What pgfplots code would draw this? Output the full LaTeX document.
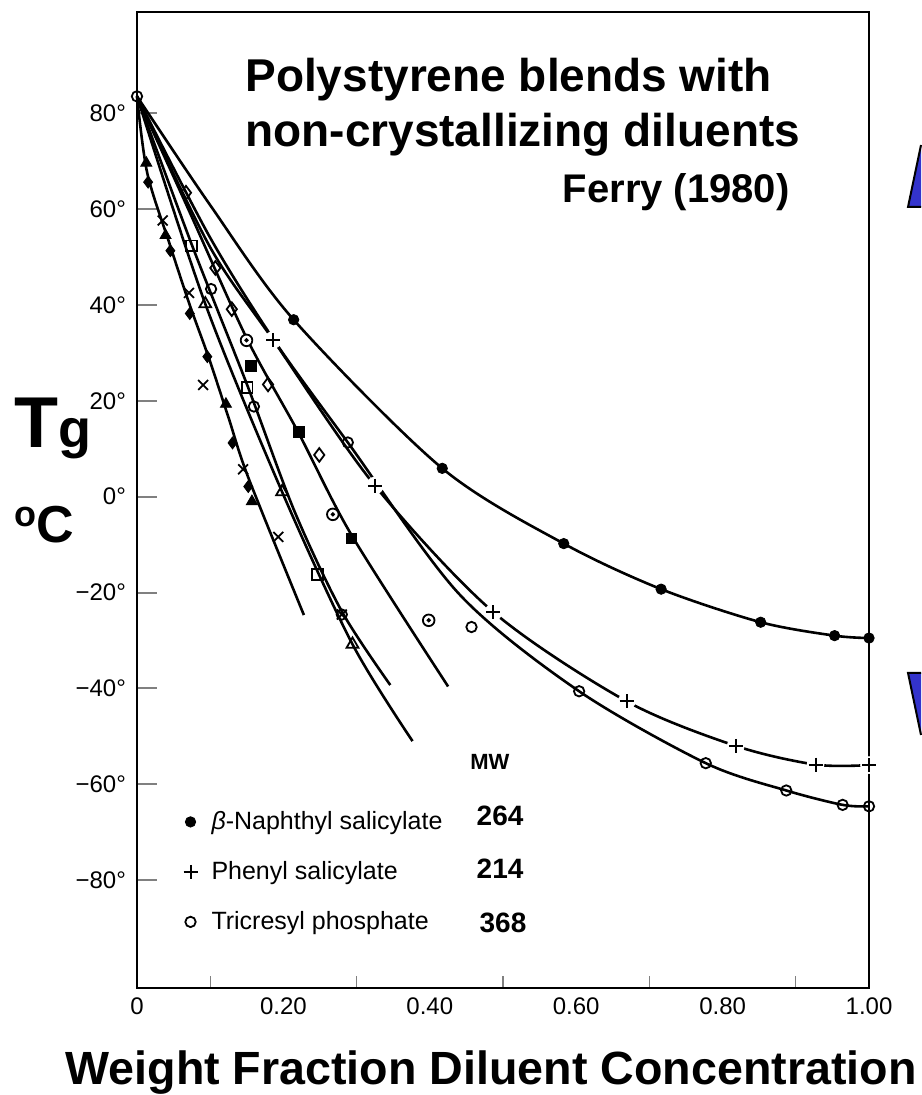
\documentclass[border=0pt]{standalone}
\usepackage{fontspec}
\setmainfont{Liberation Sans}
\usepackage{pgfplots}
\pgfplotsset{compat=1.18}
\definecolor{triblue}{HTML}{3333CC}
\begin{document}
\begin{tikzpicture}
\begin{axis}[
  at={(0pt,0pt)}, anchor=south west,
  width=366pt, height=488pt, scale only axis,
  xmin=0, xmax=1, ymin=-102.5, ymax=101.1,
  clip=false,
  axis line style={line width=1pt},
  xtick={0,0.2,0.4,0.6,0.8,1.0},
  xticklabels={0,0.20,0.40,0.60,0.80,1.00},
  minor xtick={0.1,0.3,0.5,0.7,0.9},
  ytick={-80,-60,-40,-20,0,20,40,60,80},
  yticklabels={−80°,−60°,−40°,−20°,0°,20°,40°,60°,80°},
  tick align=inside, xtick pos=bottom, ytick pos=left,
  major tick length=10pt, minor tick length=6pt,
  major x tick style={draw=none},
  minor x tick style={line width=0.6pt},
  y tick style={line width=1pt},
  ticklabel style={font=\fontsize{12}{14}\selectfont},
  yticklabel style={xshift=-2pt},
  xticklabel style={yshift=-1.5pt},
  legend style={at={(axis cs:0.063,-65.6)}, anchor=north west, draw=none, fill=none,
    inner sep=0pt, row sep=13pt, column sep=7pt,
    font=\fontsize{12.5}{14}\selectfont,
    nodes={inner sep=0pt, text height=9pt, text depth=3pt}},
  legend cell align=left,
  legend image code/.code={\draw[#1] plot coordinates {(0pt,0.08em)};},
]
% ---- curve lines ----
\addplot[smooth, line width=1.3pt, forget plot] coordinates {(0,83.5)(0.1,60.8)(0.214,36.9)(0.417,5.9)(0.583,-9.8)(0.716,-19.3)(0.852,-26.2)(0.953,-29.0)(1.0,-29.5)};
\addplot[smooth, line width=1.3pt, forget plot] coordinates {(0,83.5)(0.1,52)(0.186,32.7)(0.325,2.3)(0.487,-24.1)(0.669,-42.7)(0.818,-52.0)(0.927,-55.9)(1.0,-56.0)};
\addplot[smooth, line width=1.3pt, forget plot] coordinates {(0,83.5)(0.1,54)(0.19,32)(0.288,11.3)(0.44,-20.3)(0.604,-40.6)(0.777,-55.6)(0.887,-61.3)(0.964,-64.3)(1.0,-64.6)};
\addplot[smooth, line width=1.3pt, forget plot] coordinates {(0,83.5)(0.014,67.5)(0.045,52.5)(0.072,40)(0.098,29)(0.125,16.5)(0.152,4)(0.228,-24.7)};
\addplot[smooth, line width=1.3pt, forget plot] coordinates {(0,83.5)(0.0933,40.2)(0.1982,1.0)(0.2944,-30.8)(0.3764,-51)};
\addplot[smooth, line width=1.3pt, forget plot] coordinates {(0,83.5)(0.075,52.5)(0.15,23.5)(0.215,-3)(0.28,-24)(0.346,-39.3)};
\addplot[smooth, line width=1.3pt, forget plot] coordinates {(0,83.5)(0.07,60)(0.15,33)(0.22,13.5)(0.293,-8)(0.425,-39.6)};
% ---- white gaps in the phenyl salicylate line around its marks ----
\addplot[white, only marks, mark=*, mark size=4.2pt, forget plot] coordinates {(0.186,32.7)(0.325,2.3)(0.487,-24.1)(0.669,-42.7)(0.818,-52.0)(0.927,-55.9)(1.0,-56.0)};
% ---- other diluents ----
\addplot[only marks, mark=triangle*, mark size=3.2pt, forget plot] coordinates {(0.0127,69.6)(0.039,54.5)(0.1215,19.3)(0.157,-1.0)};
\addplot[only marks, mark=diamond*, mark size=3pt, forget plot] coordinates {(0.0152,65.6)(0.0456,51.3)(0.0721,38.2)(0.0961,29.2)(0.1305,11.2)(0.152,2.1)};
\addplot[only marks, mark=x, mark size=3.5pt, mark options={line width=0.9pt}, forget plot] coordinates {(0.0351,57.6)(0.071,42.5)(0.0903,23.3)(0.145,5.7)(0.193,-8.4)(0.2798,-24.6)};
\addplot[only marks, mark=triangle, mark size=3.4pt, mark options={fill=white, line width=0.9pt}, forget plot] coordinates {(0.0933,40.2)(0.1982,1.0)(0.2944,-30.8)};
\addplot[only marks, mark=square, mark size=2.7pt, mark options={fill=white, line width=0.9pt}, forget plot] coordinates {(0.0745,52.3)(0.1504,22.8)(0.2462,-16.2)};
\addplot[only marks, mark=o, mark size=2.6pt, mark options={fill=white, line width=0.9pt}, forget plot] coordinates {(0.1012,43.3)(0.1597,18.8)(0.2798,-24.6)};
\addplot[only marks, mark=diamond, mark size=3.4pt, mark options={fill=white, line width=0.9pt}, forget plot] coordinates {(0.0669,63.4)(0.107,47.7)(0.1295,39.1)(0.179,23.4)(0.249,8.7)};
\addplot[only marks, mark=square*, mark size=2.7pt, forget plot] coordinates {(0.156,27.2)(0.2208,13.5)(0.293,-8.7)};
\addplot[only marks, mark=*, mark size=2.9pt, mark options={fill=white, line width=0.9pt}, forget plot] coordinates {(0.1496,32.6)(0.2675,-3.7)(0.3985,-25.8)};
\addplot[only marks, mark=*, mark size=0.9pt, forget plot] coordinates {(0.1496,32.6)(0.2675,-3.7)(0.3985,-25.8)};
% ---- labelled series ----
\addplot[only marks, mark=*, mark size=2.6pt] coordinates {(0.214,36.9)(0.417,5.9)(0.583,-9.8)(0.716,-19.3)(0.852,-26.2)(0.953,-29.0)(1.0,-29.5)};
\addlegendentry{\textit{β}-Naphthyl salicylate}
\addplot[only marks, mark=+, mark size=3.5pt, mark options={line width=1pt}] coordinates {(0.186,32.7)(0.325,2.3)(0.487,-24.1)(0.669,-42.7)(0.818,-52.0)(0.927,-55.9)(1.0,-56.0)};
\addlegendentry{Phenyl salicylate}
\addplot[only marks, mark=o, mark size=2.6pt, mark options={fill=white, line width=0.9pt}] coordinates {(0,83.5)(0.288,11.3)(0.457,-27.2)(0.604,-40.6)(0.777,-55.6)(0.887,-61.3)(0.964,-64.3)(1.0,-64.6)};
\addlegendentry{Tricresyl phosphate}
% MW column
\node[font=\fontsize{11}{13}\selectfont\bfseries] at (axis cs:0.482,-55.4) {MW};
\node[font=\fontsize{14}{16}\selectfont\bfseries] at (axis cs:0.496,-66.6) {264};
\node[font=\fontsize{14}{16}\selectfont\bfseries] at (axis cs:0.496,-77.7) {214};
\node[font=\fontsize{14}{16}\selectfont\bfseries] at (axis cs:0.5,-88.9) {368};
\end{axis}
\begin{scope}[x=0.5pt,y=-0.5pt,shift={(-68.5pt,494pt)}]
\node[anchor=base west, inner sep=0pt] at (245,92) {\fontsize{23}{27}\selectfont\bfseries Polystyrene blends with};
\node[anchor=base west, inner sep=0pt] at (245,147) {\fontsize{23}{27}\selectfont\bfseries non-crystallizing diluents};
\node[anchor=base east, inner sep=0pt] at (790,203) {\fontsize{20}{24}\selectfont\bfseries Ferry (1980)};
\node[anchor=base west, inner sep=0pt] at (14,448) {\bfseries\fontsize{36}{40}\selectfont T\fontsize{27}{30}\selectfont g};
\node[anchor=base west, inner sep=0pt] at (14,543) {\bfseries\raisebox{8pt}{\fontsize{18}{20}\selectfont o}\fontsize{26}{30}\selectfont C};
\node[anchor=base, inner sep=0pt] at (491,1085) {\fontsize{23.3}{27}\selectfont\bfseries Weight Fraction Diluent Concentration};
\fill[triblue] (908,207) -- (921,145) -- (921,207) -- cycle;
\draw[line width=1pt] (921,145) -- (908,207) -- (921,207);
\fill[triblue] (908,673) -- (921,673) -- (921,735) -- cycle;
\draw[line width=1pt] (921,673) -- (908,673) -- (921,735);
\end{scope}
\pgfresetboundingbox
\path[use as bounding box] (-68.5pt,-53.5pt) rectangle (392pt,494pt);
\end{tikzpicture}
\end{document}
